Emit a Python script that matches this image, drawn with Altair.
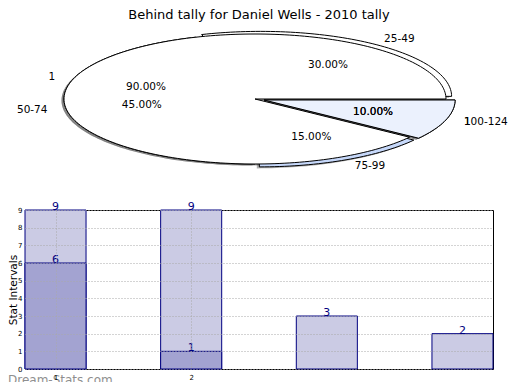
import altair as alt
import numpy as np
import pandas as pd

# ---------------- data ----------------
chart_title = "Behind tally for Daniel Wells - 2010 tally"
watermark = "Dream-Stats.com"

outer_labels = ["25-49", "50-74", "75-99", "100-124"]
outer_values = [30, 45, 15, 10]
outer_fills = ["#ffffff", "#ffffff", "#c6d8fa", "#ebf1fd"]

inner_labels = ["1", "1"]
inner_values = [90, 10]
inner_fills = ["#ffffff", "#ebf1fd"]

bar_positions = [1, 2, 3, 4]
bar_light = [9, 9, 3, 2]
bar_dark = [6, 1, 0, 0]
x_tick_values = [1, 2]
y_tick_values = [0, 1, 2, 3, 4, 5, 6, 7, 8, 9]

# ---------------- pie geometry (layout, in page pixels) ----------------
CX, CY = 255, 99
RX, RY = 191, 65
EXPLODE = 0.05
SHX, SHY = -2.5, 1.5


def pie_tables(values, labels, fills, tag):
    tot = float(sum(values))
    vmax = max(values)
    poly, shadow, texts = [], [], []
    a0 = 0.0
    for i, (v, lab, f) in enumerate(zip(values, labels, fills)):
        a1 = a0 + 360.0 * v / tot
        m = np.radians((a0 + a1) / 2)
        c, s = np.cos(m), np.sin(m)
        e = EXPLODE if v != vmax else 0.0
        cx, cy = CX + e * RX * c, CY - e * RY * s
        n = max(int((a1 - a0) / 1.5), 4)
        angs = np.radians(np.linspace(a0, a1, n + 1))
        pts = [(cx, cy)] + [(cx + RX * np.cos(a), cy - RY * np.sin(a)) for a in angs] + [(cx, cy)]
        for k, (x, y) in enumerate(pts):
            poly.append(dict(w=f"{tag}{i}", o=k, px=x, ny=-y, fill=f))
            shadow.append(dict(w=f"{tag}{i}", o=k, px=x + SHX, ny=-(y + SHY)))
        texts.append(dict(text=lab, px=cx + 1.1 * RX * c, ny=-(cy - 1.1 * RY * s),
                          side="L" if c >= 0 else "R"))
        texts.append(dict(text=f"{v:.2f}%", px=cx + 0.6 * RX * c, ny=-(cy - 0.6 * RY * s),
                          side="C"))
        a0 = a1
    return poly, shadow, texts


pB, sB, tB = pie_tables(outer_values, outer_labels, outer_fills, "B")
pA, sA, tA = pie_tables(inner_values, inner_labels, inner_fills, "A")
wedges_B = pd.DataFrame(pB)
wedges_A = pd.DataFrame(pA)
shadows = pd.DataFrame(sB + sA)
pie_text = pd.DataFrame(tB + tA)

title_df = pd.DataFrame([dict(text=chart_title, px=259, ny=-15)])
wm_df = pd.DataFrame([dict(text=watermark, px=8, ny=-380)])

# pie scales map page pixels onto the bar plot area frame
PX = alt.Scale(domain=[25, 493], nice=False, zero=False)
PY = alt.Scale(domain=[-369, -210], nice=False, zero=False)


def pxy():
    return dict(x=alt.X("px:Q", scale=PX, axis=None), y=alt.Y("ny:Q", scale=PY, axis=None))


shadow_layer = alt.Chart(shadows).mark_line(
    fill="#4d4d4d", fillOpacity=0.45, strokeOpacity=0, clip=False
).encode(detail="w:N", order="o:Q", **pxy())

wB = alt.Chart(wedges_B).mark_line(stroke="black", strokeWidth=1, clip=False).encode(
    detail="w:N", order="o:Q", fill=alt.Fill("fill:N", scale=None), **pxy())
wA = alt.Chart(wedges_A).mark_line(stroke="black", strokeWidth=1, clip=False).encode(
    detail="w:N", order="o:Q", fill=alt.Fill("fill:N", scale=None), **pxy())

txt_common = dict(font="DejaVu Sans", fontSize=10.5, color="black", baseline="middle", clip=False)
tL = alt.Chart(pie_text).transform_filter("datum.side == 'L'").mark_text(align="left", **txt_common).encode(text="text:N", **pxy())
tR = alt.Chart(pie_text).transform_filter("datum.side == 'R'").mark_text(align="right", **txt_common).encode(text="text:N", **pxy())
tC = alt.Chart(pie_text).transform_filter("datum.side == 'C'").mark_text(align="center", **txt_common).encode(text="text:N", **pxy())

title_layer = alt.Chart(title_df).mark_text(
    font="DejaVu Sans", fontSize=13, align="center", baseline="middle", color="black", clip=False
).encode(text="text:N", **pxy())
wm_layer = alt.Chart(wm_df).mark_text(
    font="DejaVu Sans", fontSize=12, align="left", baseline="middle",
    color="#8f8f8f", clip=False
).encode(text="text:N", **pxy())

pie = alt.layer(shadow_layer, wB, wA, tL, tR, tC, title_layer, wm_layer)

# ---------------- bars ----------------
bars_df = pd.DataFrame({"pos": bar_positions, "light": bar_light, "dark": bar_dark})
BX = alt.Scale(domain=[0.775, 4.225], nice=False, zero=False)
BY = alt.Scale(domain=[0, 9], nice=False)

xaxis = alt.Axis(values=x_tick_values, format="d", grid=True, gridDash=[1, 2], gridColor="#a8a8a8",
                 labelFontSize=7, labelColor="black", ticks=False, domain=False, labelPadding=4,
                 labelOverlap=False, title="Frequency", titleFontSize=11, titleFontWeight="normal",
                 titlePadding=2, zindex=1)
yaxis = alt.Axis(values=y_tick_values, format="d", grid=True, gridDash=[1, 2], gridColor="#a8a8a8",
                 labelFontSize=7, labelColor="black", ticks=False, domain=False, labelPadding=3,
                 labelOverlap=False, title="Stat Intervals", titleFontSize=10.5, titleFontWeight="normal",
                 titleX=-12, titleBaseline="middle", zindex=1)


def bxy(xf, yf):
    return dict(x=alt.X(xf, scale=BX, axis=xaxis), y=alt.Y(yf, scale=BY, axis=yaxis))


base = alt.Chart(bars_df).transform_calculate(x0="datum.pos - 0.225", x1="datum.pos + 0.225")

light = base.mark_bar(fill="#cbcbe4", stroke="#000080", strokeWidth=1).encode(
    x2="x1:Q", y2=alt.datum(0), **bxy("x0:Q", "light:Q"))
dark = base.transform_filter("datum.dark > 0").mark_bar(
    fill="#a3a3d1", stroke="#000080", strokeWidth=1).encode(
    x2="x1:Q", y2=alt.datum(0), **bxy("x0:Q", "dark:Q"))
lab_light = base.mark_text(baseline="bottom", dy=2, color="#000080", fontSize=11, font="DejaVu Sans").encode(
    text="light:Q", **bxy("pos:Q", "light:Q"))
lab_dark = base.transform_filter("datum.dark > 0").mark_text(
    baseline="bottom", dy=2, color="#000080", fontSize=11, font="DejaVu Sans").encode(
    text="dark:Q", **bxy("pos:Q", "dark:Q"))

bars = alt.layer(light, dark, lab_light, lab_dark)

chart = alt.layer(bars, pie).resolve_scale(x="independent", y="independent").properties(
    width=468, height=159,
    autosize=alt.AutoSizeParams(type="none"),
    padding={"left": 17, "top": 202, "right": 19, "bottom": 13},
).configure(font="DejaVu Sans").configure_view(stroke="black", strokeWidth=1)

chart.save("out.html", embed_options={"renderer": "svg", "actions": False})
